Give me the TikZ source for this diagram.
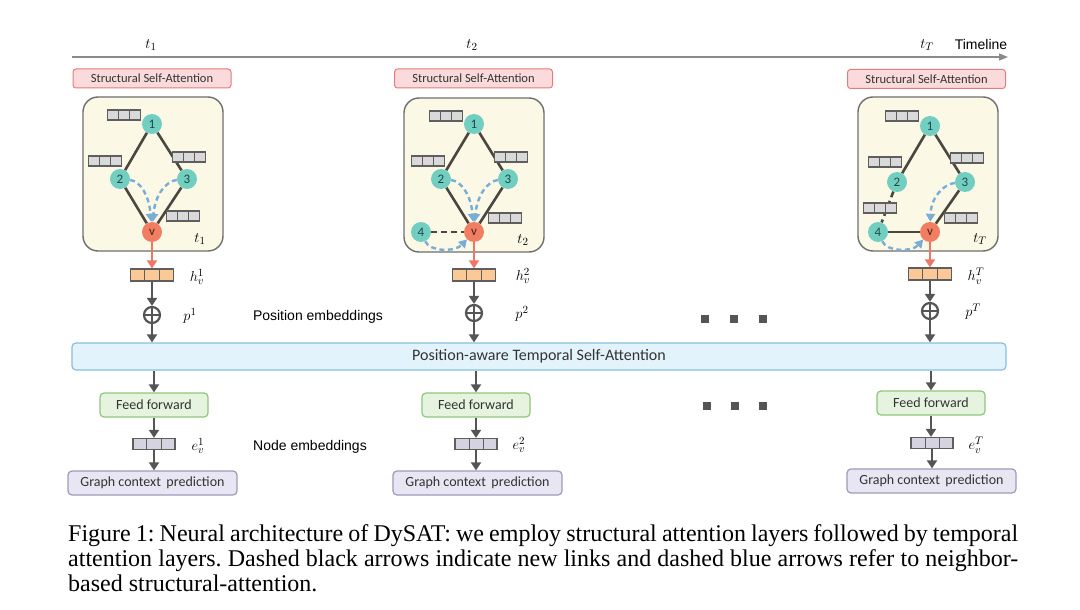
\documentclass[tikz,border=0pt]{standalone}
\usepackage{fontspec}
\setmainfont{Liberation Serif}
\newfontfamily\carlitof{Carlito}
\newfontfamily\arialf{Liberation Sans}
\usetikzlibrary{arrows.meta,calc}
\definecolor{tealc}{HTML}{72CEC0}
\definecolor{coral}{HTML}{F07E63}
\definecolor{ntext}{HTML}{1E4A46}
\definecolor{vtext}{HTML}{4A1E12}
\definecolor{panelf}{HTML}{FCF8E6}
\definecolor{panelb}{HTML}{6E6E6E}
\definecolor{ssaf}{HTML}{FBDADB}
\definecolor{ssab}{HTML}{E57B7E}
\definecolor{barf}{HTML}{D9D9D9}
\definecolor{barb}{HTML}{5E5E5E}
\definecolor{edgec}{HTML}{4A4640}
\definecolor{attc}{HTML}{7AADD6}
\definecolor{redarr}{HTML}{EF7665}
\definecolor{hbarf}{HTML}{FAC995}
\definecolor{ebarf}{HTML}{D5D3E0}
\definecolor{arrc}{HTML}{555555}
\definecolor{tbf}{HTML}{E3F3FB}
\definecolor{tbb}{HTML}{86BFDF}
\definecolor{fff}{HTML}{E6F4DF}
\definecolor{ffb}{HTML}{8DC77B}
\definecolor{gcf}{HTML}{E8E6F3}
\definecolor{gcb}{HTML}{9E9AB9}
\definecolor{boxtext}{HTML}{333333}
\definecolor{tlc}{HTML}{8A8A8A}
\pgfdeclarelayer{bg}
\pgfdeclarelayer{mid}
\pgfsetlayers{bg,mid,main}
\frenchspacing
\begin{document}
\begin{tikzpicture}[x=1pt,y=-1pt,
  gnode/.style={circle, fill=tealc, minimum size=20pt, inner sep=0pt, font=\carlitof\fontsize{13}{13}\selectfont, text=ntext},
  vnode/.style={gnode, fill=coral, text=vtext},
  cellbar/.style={draw=barb, fill=barf, line width=1.2pt, minimum width=33pt, minimum height=10pt, inner sep=0pt,
    path picture={
      \draw[barb,line width=1pt] ($(path picture bounding box.south west)!0.3333!(path picture bounding box.south east)$) -- ($(path picture bounding box.north west)!0.3333!(path picture bounding box.north east)$);
      \draw[barb,line width=1pt] ($(path picture bounding box.south west)!0.6667!(path picture bounding box.south east)$) -- ($(path picture bounding box.north west)!0.6667!(path picture bounding box.north east)$);}},
  hbar/.style={cellbar, fill=hbarf, minimum width=43pt, minimum height=12pt},
  ebar/.style={cellbar, fill=ebarf, minimum width=42pt, minimum height=11pt},
  panel/.style={draw=panelb, fill=panelf, line width=1.4pt, rounded corners=15pt, minimum width=140pt, minimum height=154pt},
  ssa/.style={draw=ssab, fill=ssaf, line width=1pt, rounded corners=3pt, minimum width=158pt, minimum height=19pt, inner sep=0pt, font=\carlitof\fontsize{12.5}{13}\selectfont, text=boxtext},
  gedge/.style={draw=edgec, line width=2.6pt},
  newlink/.style={gedge, dash pattern=on 6pt off 4pt},
  attn/.style={draw=attc, line width=2.4pt, dash pattern=on 5pt off 3.5pt, -{Triangle[length=8pt,width=9pt]}},
  tlab/.style={font=\fontsize{15}{15}\selectfont, inner sep=0pt},
  mlab/.style={font=\fontsize{15}{15}\selectfont, inner sep=0pt},
  flow/.style={draw=arrc, line width=2.6pt, -{Triangle[length=8pt,width=10pt]}},
  redflow/.style={draw=redarr, line width=2.6pt, -{Triangle[length=8pt,width=10pt]}},
  oplusn/.style={circle, draw=arrc, fill=white, line width=2.2pt, minimum size=16pt, inner sep=0pt,
    path picture={
      \draw[arrc,line width=2pt] (path picture bounding box.north) -- (path picture bounding box.south);
      \draw[arrc,line width=2pt] (path picture bounding box.west) -- (path picture bounding box.east);}},
  ffbox/.style={draw=ffb, fill=fff, line width=1.2pt, rounded corners=4pt, minimum width=108pt, minimum height=24pt, inner sep=0pt, font=\carlitof\fontsize{14}{14}\selectfont, text=boxtext},
  gcbox/.style={draw=gcb, fill=gcf, line width=1.2pt, rounded corners=4pt, minimum width=169pt, minimum height=24pt, inner sep=0pt, font=\carlitof\fontsize{14}{14}\selectfont, text=boxtext},
  sidelab/.style={font=\arialf\fontsize{14}{14}\selectfont, inner sep=0pt, text=black},
  dotsq/.style={fill=arrc, minimum size=8pt, inner sep=0pt},
  capline/.style={anchor=base west, inner sep=0pt, font=\fontsize{24}{25}\selectfont}
]
\useasboundingbox (0,0) rectangle (1080,610);

% ---------------- timeline
\coordinate (tl0) at (72,57);
\coordinate (tl1) at (1008,57);
\draw[tlc, line width=1.5pt, -{Triangle[length=9pt,width=7pt]}] (tl0) -- (tl1);
\node[tlab] (tt1) at (151,45) {$t_1$};
\node[tlab] (tt2) at (472,45) {$t_2$};
\node[tlab] (ttT) at (927,45) {$t_T$};
\node[sidelab] (tline) at (981,44) {Timeline};

% ---------------- structural attention boxes
\node[ssa] (s1) at (152,78.5) {Structural Self-Attention};
\node[ssa] (s2) at (473.5,78.5) {Structural Self-Attention};
\node[ssa] (s3) at (926.5,79) {Structural Self-Attention};

% ---------------- panels
\begin{pgfonlayer}{bg}
\node[panel] (P1) at (153,174) {};
\node[panel] (P2) at (474,175) {};
\node[panel] (P3) at (928,174) {};
\end{pgfonlayer}

% ---------------- panel 1
\node[cellbar] (b11) at (124,115) {};
\node[cellbar] (b12) at (105,161) {};
\node[cellbar] (b13) at (189,157) {};
\node[cellbar] (b1v) at (183,216) {};
\node[gnode] (a11) at (152,124) {1};
\node[gnode] (a12) at (120,179) {2};
\node[gnode] (a13) at (187,179) {3};
\node[vnode] (a1v) at (152,232) {v};
\node[mlab] (pt1) at (200,239) {$t_1$};

% ---------------- panel 2
\node[cellbar] (b21) at (446,116) {};
\node[cellbar] (b22) at (428,161) {};
\node[cellbar] (b23) at (511,157) {};
\node[cellbar] (b2v) at (505,218) {};
\node[gnode] (a21) at (474,124) {1};
\node[gnode] (a22) at (441,179) {2};
\node[gnode] (a23) at (508,179) {3};
\node[vnode] (a2v) at (474,232) {v};
\node[gnode] (a24) at (421,232) {4};
\node[mlab] (pt2) at (523,240) {$t_2$};

% ---------------- panel 3
\node[cellbar] (b31) at (902,116) {};
\node[cellbar] (b32) at (885,162) {};
\node[cellbar] (b33) at (967,158) {};
\node[cellbar] (b34) at (880,208) {};
\node[cellbar] (b3v) at (961,218) {};
\node[gnode] (a31) at (930,126) {1};
\node[gnode] (a32) at (897,182) {2};
\node[gnode] (a33) at (965,182) {3};
\node[vnode] (a3v) at (930,232) {v};
\node[gnode] (a34) at (878,232) {4};
\node[mlab] (pt3) at (980,239) {$t_T$};

\begin{pgfonlayer}{mid}
% panel 1 edges
\draw[gedge] (a11) -- (a12);
\draw[gedge] (a11) -- (a13);
\draw[gedge] (a12) -- (a1v);
\draw[gedge] (a13) -- (a1v);
% panel 2 edges
\draw[gedge] (a21) -- (a22);
\draw[gedge] (a21) -- (a23);
\draw[gedge] (a22) -- (a2v);
\draw[gedge] (a23) -- (a2v);
\draw[newlink] (a24) -- (a2v);
% panel 3 edges
\draw[gedge] (a31) -- (a32);
\draw[gedge] (a31) -- (a33);
\draw[newlink] (a32) -- (a34);
\draw[gedge] (a34) -- (a3v);
\draw[gedge] (a33) -- (a3v);
\end{pgfonlayer}

% attention arrows
\draw[attn] (a12) .. controls (140,181) and (149,195) .. (a1v);
\draw[attn] (a13) .. controls (166,181) and (155,195) .. (a1v);
\draw[attn] (a22) .. controls (461,181) and (471,195) .. (a2v);
\draw[attn] (a23) .. controls (488,181) and (477,195) .. (a2v);
\draw[attn] (a24) .. controls (430,252) and (455,252) .. (a2v);
\draw[attn] (a33) .. controls (944,184) and (931,197) .. (a3v);
\draw[attn] (a34) .. controls (887,252) and (912,252) .. (a3v);

% ---------------- lower columns
\node[hbar] (h1) at (152,275) {};
\node[hbar] (h2) at (474,275) {};
\node[hbar] (h3) at (930,274) {};
\node[mlab] (hl1) at (197,277) {$h_v^1$};
\node[mlab] (hl2) at (523,276) {$h_v^2$};
\node[mlab] (hl3) at (976,276) {$h_v^T$};
\node[oplusn] (o1) at (152,315) {};
\node[oplusn] (o2) at (474,313) {};
\node[oplusn] (o3) at (930,311) {};
\node[mlab] (pl1) at (190,316) {$p^1$};
\node[mlab] (pl2) at (522,314) {$p^2$};
\node[mlab] (pl3) at (973,312) {$p^T$};
\node[sidelab] (posemb) at (318,317) {Position embeddings};

\node[draw=tbb, fill=tbf, line width=1.2pt, rounded corners=4pt, minimum width=934pt, minimum height=27pt, inner sep=0pt, font=\carlitof\fontsize{16}{16}\selectfont, text=boxtext] (tb) at (539,356.5) {Position-aware Temporal Self-Attention};

\node[ffbox] (f1) at (154,405) {Feed forward};
\node[ffbox] (f2) at (476,405) {Feed forward};
\node[ffbox] (f3) at (931,403) {Feed forward};
\node[ebar] (e1) at (154,444) {};
\node[ebar] (e2) at (476,444) {};
\node[ebar] (e3) at (932,443) {};
\node[mlab] (el1) at (198,446) {$e^{1}_{v}$};
\node[mlab] (el2) at (519,445) {$e^{2}_{v}$};
\node[mlab] (el3) at (976,445) {$e^{T}_{v}$};
\node[sidelab] (nodeemb) at (310,447) {Node embeddings};
\node[gcbox] (g1) at (152.5,483) {Graph context\, prediction};
\node[gcbox] (g2) at (477.5,483) {Graph context\, prediction};
\node[gcbox] (g3) at (931.5,481) {Graph context\, prediction};

% dots
\node[dotsq] (d11) at (705,319) {};
\node[dotsq] (d12) at (734,319) {};
\node[dotsq] (d13) at (763,319) {};
\node[dotsq] (d21) at (707,406) {};
\node[dotsq] (d22) at (735,406) {};
\node[dotsq] (d23) at (763,406) {};

% flows
\draw[redflow] (a1v.south) -- (a1v.south |- h1.north);
\draw[redflow] (a2v.south) -- (a2v.south |- h2.north);
\draw[redflow] (a3v.south) -- (a3v.south |- h3.north);
\draw[flow] (h1.south) -- (o1.north);
\draw[flow] (h2.south) -- (o2.north);
\draw[flow] (h3.south) -- (o3.north);
\draw[flow] (o1.south) -- (o1.south |- tb.north);
\draw[flow] (o2.south) -- (o2.south |- tb.north);
\draw[flow] (o3.south) -- (o3.south |- tb.north);
\draw[flow] (tb.south -| f1.north) -- (f1.north);
\draw[flow] (tb.south -| f2.north) -- (f2.north);
\draw[flow] (tb.south -| f3.north) -- (f3.north);
\draw[flow] (f1.south) -- (f1.south |- e1.north);
\draw[flow] (f2.south) -- (f2.south |- e2.north);
\draw[flow] (f3.south) -- (f3.south |- e3.north);
\draw[flow] (e1.south) -- (e1.south |- g1.north);
\draw[flow] (e2.south) -- (e2.south |- g2.north);
\draw[flow] (e3.south) -- (e3.south |- g3.north);

% caption
\node[capline] (c1) at (68,541) {\makebox[950pt][s]{Figure 1: Neural architecture of DySAT: we employ structural attention layers followed by temporal}};
\node[capline] (c2) at (68,566) {\makebox[950pt][s]{attention layers. Dashed black arrows indicate new links and dashed blue arrows refer to neighbor-}};
\node[capline] (c3) at (68,591) {based structural-attention.};
\end{tikzpicture}
\end{document}
